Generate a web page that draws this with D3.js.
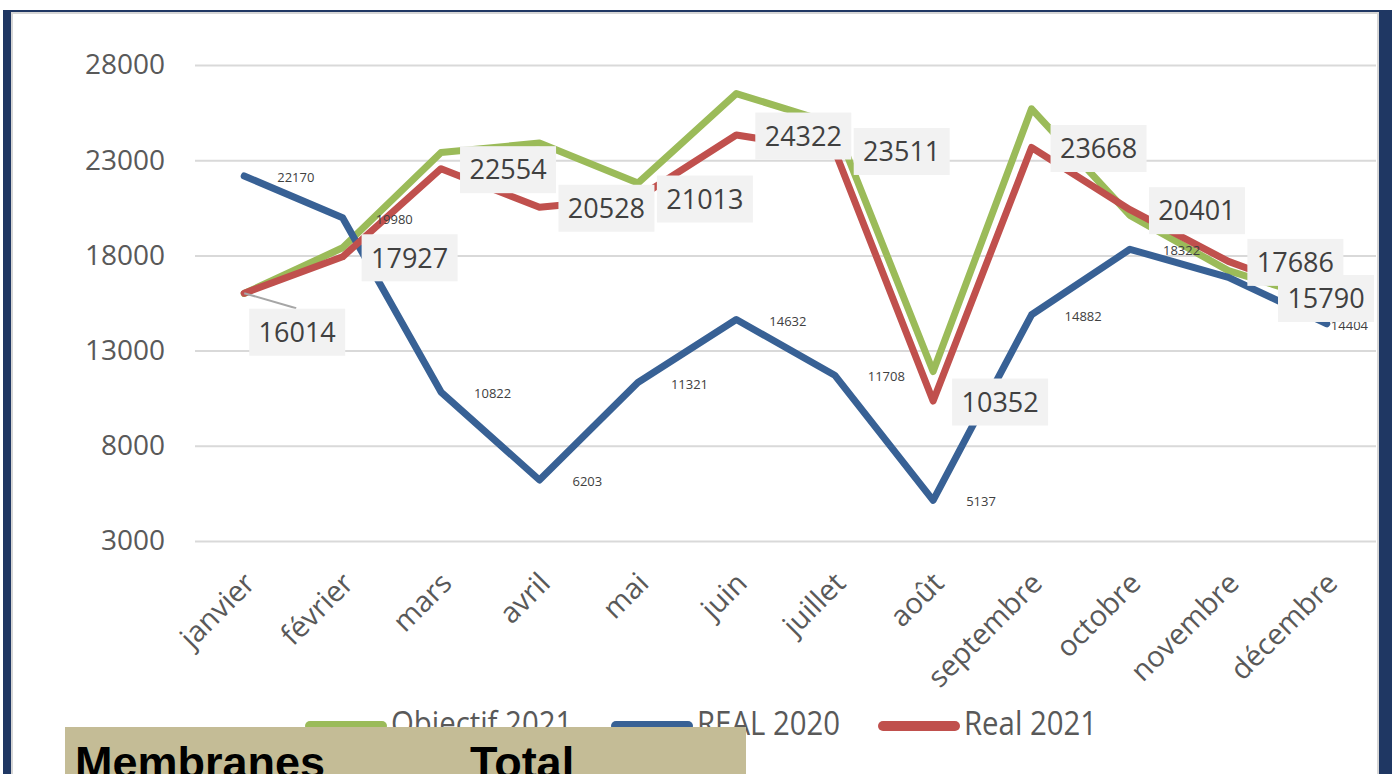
<!DOCTYPE html>
<html>
<head>
<meta charset="utf-8">
<script src="https://cdn.jsdelivr.net/npm/d3@7"></script>
<style>
  body { margin: 0; background: #fff; }
  svg { display: block; }
</style>
</head>
<body>
<div id="chart-holder"></div>
<script>
// chart values
var months = ["janvier", "février", "mars", "avril", "mai", "juin", "juillet",
  "août", "septembre", "octobre", "novembre", "décembre"];
var objectif2021 = [16000, 18400, 23400, 23900, 21800, 26500, 24900, 11900, 25700, 20100, 17200, 15600];
var real2020 = [22170, 19980, 10822, 6203, 11321, 14632, 11708, 5137, 14882, 18322, 16850, 14404];
var real2021 = [16014, 17927, 22554, 20528, 21013, 24322, 23511, 10352, 23668, 20401, 17686, 15790];
var yTicks = [3000, 8000, 13000, 18000, 23000, 28000];
var seriesNames = ["Objectif 2021", "REAL 2020", "Real 2021"];
var tableHeaders = ["Membranes", "Total"];

// dimensions of the page and the plot area
var width = 1392, height = 774;
var plot = { left: 195, right: 1376, top: 65, bottom: 541 };
var colors = ["#9bbb59", "#386195", "#c0504d"];

var svg = d3.select("#chart-holder").append("svg")
  .attr("width", width)
  .attr("height", height);

// frame: dark blue border around the chart area
svg.append("rect")
  .attr("x", 3).attr("y", 10)
  .attr("width", width - 3).attr("height", height - 10)
  .attr("fill", "#1f3763");
svg.append("rect")
  .attr("x", 12).attr("y", 13)
  .attr("width", 1366).attr("height", height)
  .attr("fill", "#fff")
  .attr("stroke", "#d6d6d6")
  .attr("stroke-width", 2);

// scales
var x = d3.scalePoint()
  .domain(months)
  .range([plot.left, plot.right])
  .padding(0.5);
var y = d3.scaleLinear()
  .domain([3000, 28000])
  .range([plot.bottom, plot.top]);

// horizontal gridlines + y labels
var yAxis = svg.append("g")
  .attr("transform", "translate(" + plot.left + ",0)")
  .call(d3.axisLeft(y).tickValues(yTicks).tickSize(-(plot.right - plot.left)).tickFormat(d3.format("d")).tickPadding(30));
yAxis.select(".domain").remove();
yAxis.selectAll("line")
  .attr("stroke", "#d9d9d9")
  .attr("stroke-width", 2);
yAxis.selectAll("text")
  .attr("fill", "#595959")
  .style("font-family", "'Open Sans', sans-serif")
  .style("font-size", "28px");

// month labels, rotated
var xAxis = svg.append("g")
  .attr("transform", "translate(0," + plot.bottom + ")")
  .call(d3.axisBottom(x).tickSize(0));
xAxis.select(".domain").remove();
xAxis.selectAll("text")
  .attr("x", 0).attr("y", 0).attr("dy", 0)
  .attr("transform", "translate(12,44) rotate(-45)")
  .style("text-anchor", "end")
  .attr("fill", "#595959")
  .style("font-family", "'Open Sans', sans-serif")
  .style("font-size", "29px");

// the three lines, objectif first so the real lines sit over it
var line = d3.line()
  .x(function (d, i) { return x(months[i]); })
  .y(function (d) { return y(d); });

[objectif2021, real2020, real2021].forEach(function (values, k) {
  svg.append("path")
    .datum(values)
    .attr("d", line)
    .attr("fill", "none")
    .attr("stroke", colors[k])
    .attr("stroke-width", 7)
    .attr("stroke-linejoin", "round")
    .attr("stroke-linecap", "round");
});

// small labels for REAL 2020, pulled left when they would leave the plot
svg.selectAll(".lbl2020")
  .data(real2020)
  .enter()
  .append("text")
  .attr("class", "lbl2020")
  .attr("y", function (d) { return y(d) + 6; })
  .attr("fill", "#404040")
  .style("font-family", "'Open Sans', sans-serif")
  .style("font-size", "13px")
  .text(function (d) { return d; })
  .attr("x", function (d, i) {
    var w = this.getComputedTextLength();
    return Math.min(x(months[i]) + 33, plot.right - 8 - w);
  });

// leader line for the first Real 2021 label, which was dragged below the point
svg.append("line")
  .attr("x1", x(months[0])).attr("y1", y(real2021[0]))
  .attr("x2", x(months[0]) + 52).attr("y2", y(real2021[0]) + 15)
  .attr("stroke", "#a6a6a6")
  .attr("stroke-width", 2);

// boxed labels for Real 2021
var boxW = 96, boxH = 47;
var boxes = svg.selectAll(".lbl2021")
  .data(real2021)
  .enter()
  .append("g")
  .attr("class", "lbl2021")
  .attr("transform", function (d, i) {
    var cx = x(months[i]) + 67, cy = y(d) + 1;
    if (i === 0) { cx = x(months[i]) + 53; cy = y(d) + 39; }
    // keep the box inside the plot on the right
    cx = Math.min(cx, plot.right - 2 - boxW / 2);
    return "translate(" + cx + "," + cy + ")";
  });
boxes.append("rect")
  .attr("x", -boxW / 2).attr("y", -boxH / 2)
  .attr("width", boxW).attr("height", boxH)
  .attr("fill", "#f2f2f2");
boxes.append("text")
  .attr("text-anchor", "middle")
  .attr("dy", "0.36em")
  .attr("fill", "#404040")
  .style("font-family", "'Open Sans', sans-serif")
  .style("font-size", "27px")
  .text(function (d) { return d; });

// legend
var legendX = [306, 612, 879];
var legend = svg.selectAll(".legend")
  .data(seriesNames)
  .enter()
  .append("g")
  .attr("class", "legend")
  .attr("transform", function (d, i) { return "translate(" + legendX[i] + ",726)"; });
legend.append("line")
  .attr("x1", 4).attr("x2", 76)
  .attr("stroke", function (d, i) { return colors[i]; })
  .attr("stroke-width", 10)
  .attr("stroke-linecap", "round");
// the legend font in the picture is narrow, so squeeze it horizontally
legend.append("text")
  .attr("transform", "translate(85,9) scale(0.89,1)")
  .attr("fill", "#595959")
  .style("font-family", "'Open Sans', sans-serif")
  .style("font-size", "33px")
  .text(function (d) { return d; });

// table header pasted over the bottom of the chart
svg.append("rect")
  .attr("x", 65).attr("y", 727)
  .attr("width", 681).attr("height", 60)
  .attr("fill", "#c4bc96");
svg.selectAll(".thead")
  .data(tableHeaders)
  .enter()
  .append("text")
  .attr("class", "thead")
  .attr("x", function (d, i) { return i === 0 ? 75 : 470; })
  .attr("y", 778)
  .attr("fill", "#000")
  .style("font-family", "'Liberation Sans', Arial, sans-serif")
  .style("font-weight", "bold")
  .style("font-size", "45px")
  .text(function (d) { return d; });
</script>
</body>
</html>
